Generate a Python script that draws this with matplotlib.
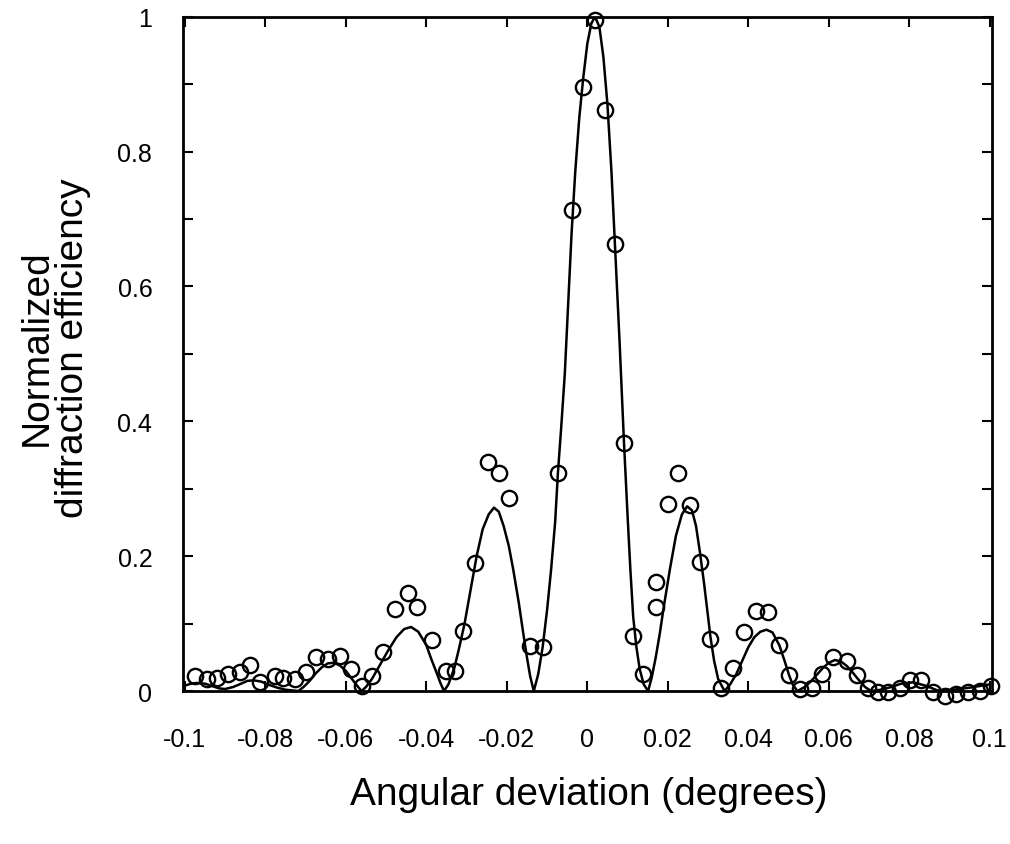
import matplotlib
matplotlib.use('Agg')
import matplotlib.pyplot as plt
from matplotlib.ticker import MultipleLocator

plt.rcParams['font.family'] = ['Liberation Sans', 'DejaVu Sans']

# measured points (open circles)
meas_x = [-0.0975, -0.0946, -0.0921, -0.0892, -0.0863, -0.0839, -0.0814, -0.0776,
          -0.0756, -0.0727, -0.0699, -0.0673, -0.0644, -0.0615, -0.0586, -0.0561,
          -0.0534, -0.0507, -0.0478, -0.0445, -0.0423, -0.0387, -0.0350, -0.0329,
          -0.0309, -0.0280, -0.0246, -0.0219, -0.0194, -0.0143, -0.0111, -0.0073,
          -0.0039, -0.0010, 0.0019, 0.0043, 0.0068, 0.0091, 0.0114, 0.0139,
          0.0170, 0.0170, 0.0201, 0.0226, 0.0256, 0.0281, 0.0306, 0.0333,
          0.0362, 0.0389, 0.0420, 0.0449, 0.0477, 0.0501, 0.0528, 0.0557,
          0.0582, 0.0611, 0.0644, 0.0670, 0.0698, 0.0722, 0.0747, 0.0776,
          0.0801, 0.0830, 0.0859, 0.0888, 0.0917, 0.0946, 0.0975, 0.1002]
meas_y = [0.022, 0.018, 0.020, 0.025, 0.028, 0.038, 0.014, 0.023,
          0.019, 0.018, 0.028, 0.050, 0.047, 0.052, 0.033, 0.008,
          0.023, 0.058, 0.122, 0.146, 0.124, 0.075, 0.030, 0.030,
          0.089, 0.190, 0.339, 0.324, 0.286, 0.067, 0.065, 0.324,
          0.713, 0.896, 0.995, 0.861, 0.663, 0.368, 0.081, 0.025,
          0.162, 0.124, 0.277, 0.323, 0.276, 0.191, 0.077, 0.004,
          0.034, 0.087, 0.119, 0.117, 0.068, 0.024, 0.003, 0.005,
          0.025, 0.051, 0.044, 0.024, 0.005, -0.002, -0.002, 0.005,
          0.017, 0.017, -0.002, -0.007, -0.004, -0.002, 0.000, 0.008]

# theoretical curve
theo_x = [-0.1000, -0.0985, -0.0970, -0.0950, -0.0930, -0.0915, -0.0900, -0.0880,
          -0.0860, -0.0845, -0.0830, -0.0810, -0.0790, -0.0770, -0.0750, -0.0735,
          -0.0718, -0.0705, -0.0690, -0.0675, -0.0660, -0.0645, -0.0630, -0.0615,
          -0.0600, -0.0585, -0.0572, -0.0561, -0.0550, -0.0535, -0.0516, -0.0495,
          -0.0474, -0.0455, -0.0438, -0.0420, -0.0400, -0.0388, -0.0375, -0.0365,
          -0.0356, -0.0345, -0.0330, -0.0318, -0.0305, -0.0290, -0.0275, -0.0260,
          -0.0245, -0.0232, -0.0220, -0.0208, -0.0195, -0.0184, -0.0170, -0.0159,
          -0.0150, -0.0142, -0.0133, -0.0122, -0.0111, -0.0100, -0.0090, -0.0080,
          -0.0073, -0.0065, -0.0056, -0.0047, -0.0039, -0.0030, -0.0020, -0.0010,
          0.0000, 0.0010, 0.0019, 0.0030, 0.0040, 0.0050, 0.0060, 0.0068,
          0.0080, 0.0091, 0.0100, 0.0107, 0.0114, 0.0122, 0.0130, 0.0140,
          0.0151, 0.0160, 0.0170, 0.0180, 0.0190, 0.0205, 0.0220, 0.0235,
          0.0248, 0.0260, 0.0270, 0.0280, 0.0290, 0.0300, 0.0306, 0.0315,
          0.0325, 0.0341, 0.0355, 0.0370, 0.0385, 0.0400, 0.0415, 0.0430,
          0.0445, 0.0460, 0.0477, 0.0490, 0.0501, 0.0510, 0.0522, 0.0540,
          0.0555, 0.0570, 0.0585, 0.0600, 0.0615, 0.0630, 0.0645, 0.0660,
          0.0675, 0.0690, 0.0705, 0.0730, 0.0755, 0.0780, 0.0810, 0.0840,
          0.0870, 0.0910, 0.0950, 0.1000]
theo_y = [0.008, 0.011, 0.012, 0.011, 0.007, 0.004, 0.003, 0.006,
          0.011, 0.015, 0.016, 0.014, 0.009, 0.005, 0.002, 0.001,
          0.000, 0.006, 0.015, 0.026, 0.035, 0.041, 0.042, 0.038,
          0.030, 0.018, 0.008, 0.000, 0.006, 0.018, 0.038, 0.060,
          0.080, 0.092, 0.095, 0.088, 0.068, 0.048, 0.028, 0.012,
          0.000, 0.010, 0.035, 0.065, 0.100, 0.150, 0.200, 0.240,
          0.262, 0.272, 0.266, 0.245, 0.215, 0.180, 0.130, 0.085,
          0.050, 0.022, 0.000, 0.025, 0.065, 0.120, 0.180, 0.250,
          0.324, 0.390, 0.470, 0.580, 0.680, 0.770, 0.850, 0.910,
          0.960, 0.990, 1.000, 0.985, 0.940, 0.870, 0.770, 0.670,
          0.520, 0.370, 0.260, 0.180, 0.110, 0.065, 0.033, 0.010,
          0.000, 0.020, 0.050, 0.085, 0.125, 0.180, 0.230, 0.262,
          0.274, 0.268, 0.245, 0.205, 0.160, 0.110, 0.080, 0.045,
          0.018, 0.000, 0.010, 0.025, 0.045, 0.065, 0.080, 0.088,
          0.091, 0.087, 0.068, 0.045, 0.024, 0.010, 0.000, 0.006,
          0.014, 0.024, 0.034, 0.042, 0.046, 0.044, 0.037, 0.027,
          0.016, 0.006, 0.000, 0.002, 0.006, 0.011, 0.013, 0.008,
          0.001, 0.002, 0.005, 0.010]

fig = plt.figure(figsize=(10.1, 8.45), dpi=100)
ax = fig.add_axes([0.181, 0.181, 0.801, 0.798])

ax.plot(theo_x, theo_y, color='black', linewidth=1.8)
ax.plot(meas_x, meas_y, linestyle='none', marker='o', markersize=11,
        markerfacecolor='none', markeredgecolor='black', markeredgewidth=1.7,
        clip_on=False)

ax.set_xlim(-0.1005, 0.1005)
ax.set_ylim(0, 1.0)
ax.set_xticks([-0.1, -0.08, -0.06, -0.04, -0.02, 0, 0.02, 0.04, 0.06, 0.08, 0.1])
ax.set_xticklabels(['-0.1', '-0.08', '-0.06', '-0.04', '-0.02', '0',
                    '0.02', '0.04', '0.06', '0.08', '0.1'])
ax.set_yticks([0, 0.2, 0.4, 0.6, 0.8, 1.0])
ax.set_yticklabels(['0', '0.2', '0.4', '0.6', '0.8', '1'])
ax.yaxis.set_minor_locator(MultipleLocator(0.1))

for s in ax.spines.values():
    s.set_linewidth(2.0)
ax.tick_params(axis='both', which='both', direction='in', top=True, right=True,
               length=7, width=1.5, labelsize=18)
ax.tick_params(axis='x', pad=26)
ax.tick_params(axis='y', pad=22)

fig.text(0.583, 1 - 795 / 845, 'Angular deviation (degrees)', fontsize=28,
         ha='center', va='center')
fig.text(0.054, 1 - 348 / 845, 'Normalized\ndiffraction efficiency', fontsize=28,
         ha='center', va='center', rotation=90, linespacing=1.0)

fig.savefig('out.png', dpi=100)
